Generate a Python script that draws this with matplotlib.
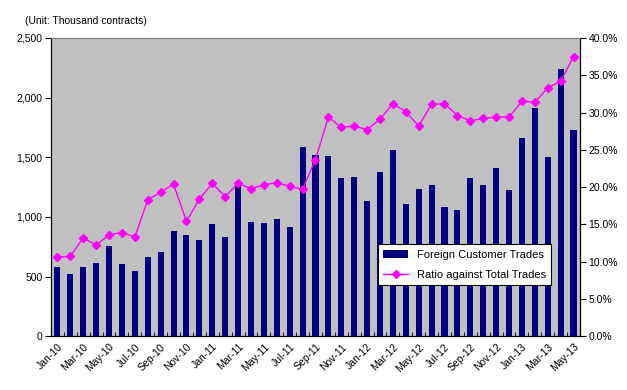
import matplotlib
matplotlib.use("Agg")
import matplotlib.pyplot as plt
import numpy as np

months = ["Jan-10","Feb-10","Mar-10","Apr-10","May-10","Jun-10","Jul-10","Aug-10","Sep-10","Oct-10","Nov-10","Dec-10",
          "Jan-11","Feb-11","Mar-11","Apr-11","May-11","Jun-11","Jul-11","Aug-11","Sep-11","Oct-11","Nov-11","Dec-11",
          "Jan-12","Feb-12","Mar-12","Apr-12","May-12","Jun-12","Jul-12","Aug-12","Sep-12","Oct-12","Nov-12","Dec-12",
          "Jan-13","Feb-13","Mar-13","Apr-13","May-13"]
foreign_trades = [579, 520, 579, 612, 755, 604, 545, 663, 705, 881, 847, 805,
                  940, 830, 1290, 956, 948, 982, 914, 1586, 1518, 1510, 1325, 1334,
                  1133, 1376, 1560, 1107, 1233, 1267, 1082, 1057, 1325, 1267, 1409, 1225,
                  1661, 1913, 1502, 2240, 1728]
ratio = [10.6, 10.7, 13.2, 12.2, 13.6, 13.9, 13.3, 18.3, 19.3, 20.4, 15.4, 18.4,
         20.5, 18.7, 20.5, 19.8, 20.3, 20.6, 20.1, 19.7, 23.7, 29.4, 28.0, 28.2,
         27.7, 29.1, 31.2, 30.1, 28.2, 31.1, 31.2, 29.6, 28.9, 29.2, 29.4, 29.4,
         31.5, 31.4, 33.3, 34.2, 37.5]
left_ticks = [0, 500, 1000, 1500, 2000, 2500]
right_ticks = [0, 5, 10, 15, 20, 25, 30, 35, 40]

plt.rcParams['font.family'] = ['Liberation Sans', 'DejaVu Sans']

fig = plt.figure(figsize=(6.27, 3.9), dpi=100)
ax = fig.add_axes([0.0813, 0.138, 0.8437, 0.7646])
ax.set_facecolor('#C0C0C0')
x = np.arange(len(months))
b = ax.bar(x, foreign_trades, width=0.47, color='#000080', label='Foreign Customer Trades', zorder=2)
ax.set_xlim(-0.5, len(months) - 0.5)
ax.set_ylim(0, 2500)
ax.set_yticks(left_ticks)
ax.set_yticklabels([f"{v:,}" for v in left_ticks], fontsize=7.5)
ax.set_xticks(x[::2])
ax.set_xticklabels(months[::2], rotation=45, ha='right', rotation_mode='anchor', fontsize=7.5)
ax.tick_params(axis='x', length=0, pad=4)
ax.set_xticks(np.arange(-0.5, len(months)), minor=True)
ax.tick_params(axis='x', which='minor', length=3, direction='in')
ax.tick_params(axis='y', length=4, direction='out', pad=2)
for s in ['left', 'bottom', 'right']:
    ax.spines[s].set_color('black')
ax.spines['top'].set_color('#808080')

ax2 = ax.twinx()
l, = ax2.plot(x, ratio, color='#FF00FF', marker='D', markersize=4, linewidth=1,
              label='Ratio against Total Trades', zorder=3)
ax2.set_ylim(0, 40)
ax2.set_yticks(right_ticks)
ax2.set_yticklabels([f"{v:.1f}%" for v in right_ticks], fontsize=7.5)
ax2.tick_params(axis='y', length=4, direction='out', pad=2)
ax2.spines['top'].set_color('#808080')

leg = ax2.legend([b, l], ['Foreign Customer Trades', 'Ratio against Total Trades'],
                 loc='upper left', bbox_to_anchor=(0.618, 0.309), borderaxespad=0,
                 fontsize=8, fancybox=False, framealpha=1, edgecolor='black', borderpad=0.5,
                 handlelength=2.2, labelspacing=0.9)
leg.get_frame().set_linewidth(0.8)

fig.text(0.04, 0.945, "(Unit: Thousand contracts)", fontsize=7.5, va='center')

fig.savefig("out.png", dpi=100)
